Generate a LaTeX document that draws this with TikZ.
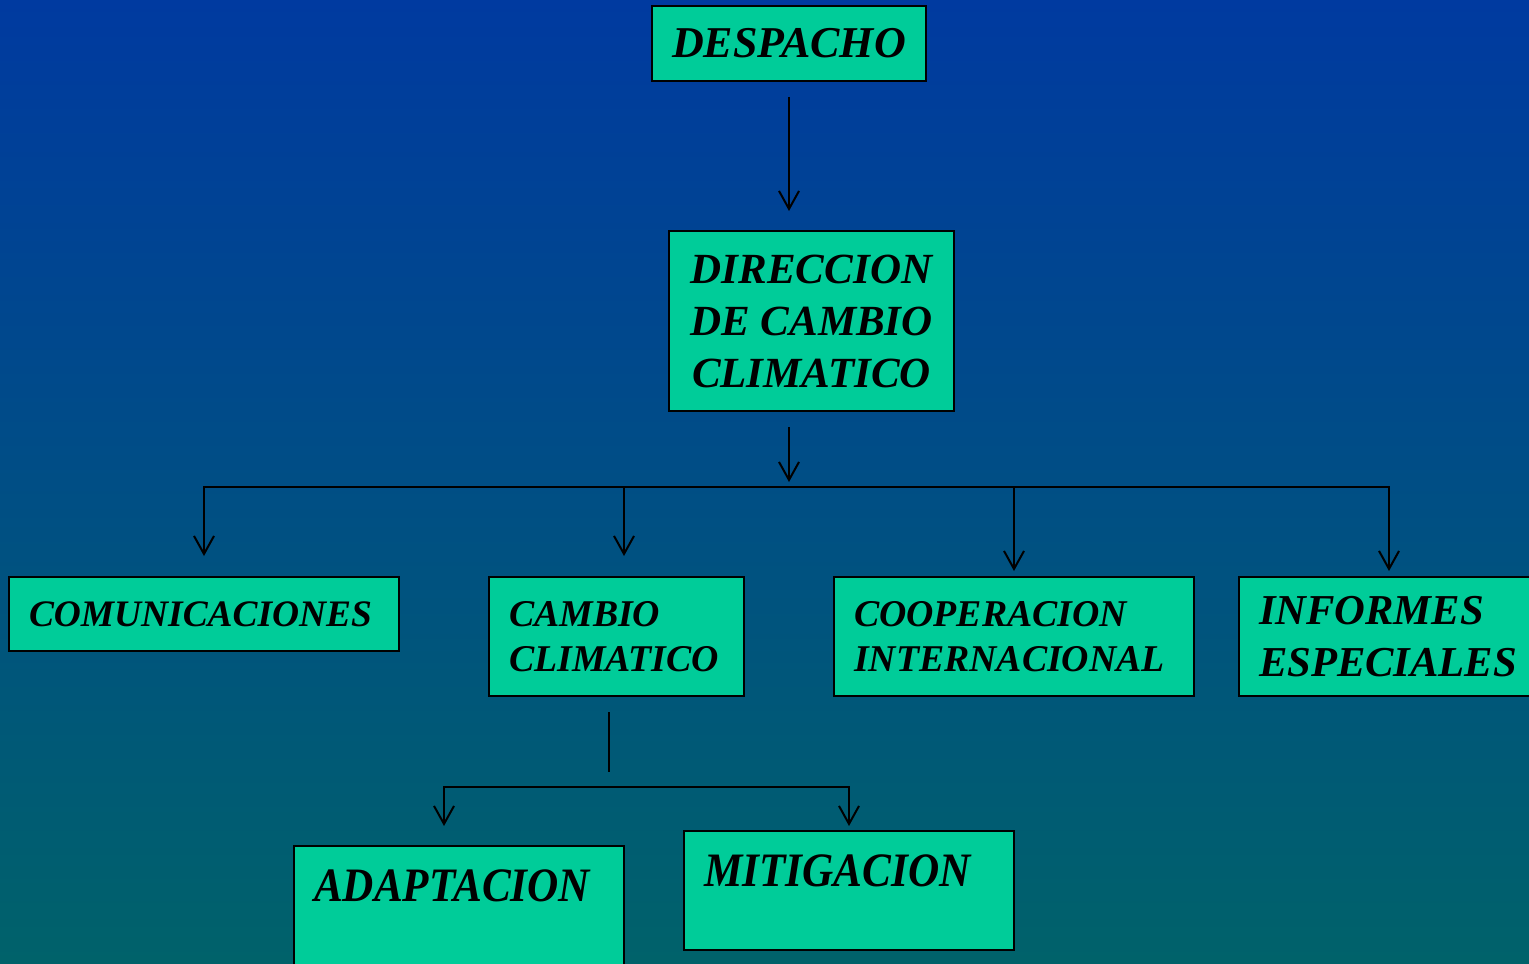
\documentclass[tikz,border=0pt]{standalone}
\usepackage{fontspec}
\setmainfont{Liberation Serif}
\newfontfamily\narrowserif{Liberation Serif}[FakeStretch=0.9]
\usetikzlibrary{arrows.meta}

\definecolor{boxgreen}{RGB}{0,204,153}
\definecolor{bgtop}{RGB}{0,58,160}
\definecolor{bgbottom}{RGB}{0,98,106}

\begin{document}
\begin{tikzpicture}[x=0.5pt,y=-0.5pt,
  box/.style={draw=black, line width=1pt, fill=boxgreen, inner xsep=10pt, inner ysep=0pt},
  link/.style={line width=1pt},
  arr/.style={link, -{Straight Barb[length=9pt,width=10pt]}}]

% background
\clip (0,0) rectangle (1529,963);
\shade[top color=bgtop, bottom color=bgbottom] (0,0) rectangle (1529,963);

% boxes
\node[box, minimum width=135pt, minimum height=37.5pt,
  font=\fontsize{22}{26}\selectfont\bfseries\itshape] (despacho) at (789,43.5) {DESPACHO};
\node[box, align=center, minimum width=142.5pt, minimum height=90pt,
  font=\fontsize{21.5}{26}\selectfont\bfseries\itshape] (direccion) at (811.5,321)
  {DIRECCION\\DE CAMBIO\\CLIMATICO};

\node[box, text width=175pt, align=left, minimum height=37pt,
  font=\fontsize{18.7}{22.5}\selectfont\bfseries\itshape] (comunic) at (204,614) {COMUNICACIONES};
\node[box, text width=107.5pt, align=left, minimum height=59.5pt,
  font=\fontsize{18.9}{22.5}\selectfont\bfseries\itshape] (cambio) at (616.5,636.5)
  {CAMBIO\\CLIMATICO};
\node[box, text width=160pt, align=left, minimum height=59.5pt,
  font=\fontsize{18.9}{22.5}\selectfont\bfseries\itshape] (cooper) at (1014,636.5)
  {COOPERACION\\INTERNACIONAL};
\node[box, text width=130pt, align=left, minimum height=59.5pt,
  font=\fontsize{21.3}{26}\selectfont\bfseries\itshape] (informes) at (1389,636.5)
  {INFORMES\\ESPECIALES};

\node[box, text width=145pt, align=left, text height=27.9pt, text depth=31.6pt,
  font=\fontsize{24}{28}\narrowserif\bfseries\itshape] (adapt) at (459,905.5) {ADAPTACION};
\node[box, text width=145pt, align=left, text height=27.9pt, text depth=31.6pt,
  font=\fontsize{24}{28}\narrowserif\bfseries\itshape] (mitig) at (849,890.5) {MITIGACION};

% connectors
\coordinate (bus) at (789,487);
\coordinate (b1) at (204,487);
\coordinate (b2) at (624,487);
\coordinate (b3) at (1014,487);
\coordinate (b4) at (1389,487);
\coordinate (stem) at (609,787);
\coordinate (c1) at (444,787);
\coordinate (c2) at (849,787);

\draw[arr, shorten <=7.5pt, shorten >=9.5pt] (despacho.south) -- (despacho.south |- direccion.north);
\draw[arr, shorten <=7.5pt, shorten >=2.5pt] (bus |- direccion.south) -- (bus);
\draw[link, line cap=rect] (b1) -- (b4);
\draw[arr, shorten >=10pt] (b1) -- (b1 |- comunic.north);
\draw[arr, shorten >=10pt] (b2) -- (b2 |- cambio.north);
\draw[arr, shorten >=2.5pt] (b3) -- (b3 |- cooper.north);
\draw[arr, shorten >=2.5pt] (b4) -- (b4 |- informes.north);

\draw[link, shorten <=7.5pt, shorten >=7.5pt] (stem |- cambio.south) -- (stem);
\draw[link, line cap=rect] (c1) -- (c2);
\draw[arr, shorten >=9.5pt] (c1) -- (c1 |- adapt.north);
\draw[arr, shorten >=2pt] (c2) -- (c2 |- mitig.north);
\end{tikzpicture}
\end{document}
